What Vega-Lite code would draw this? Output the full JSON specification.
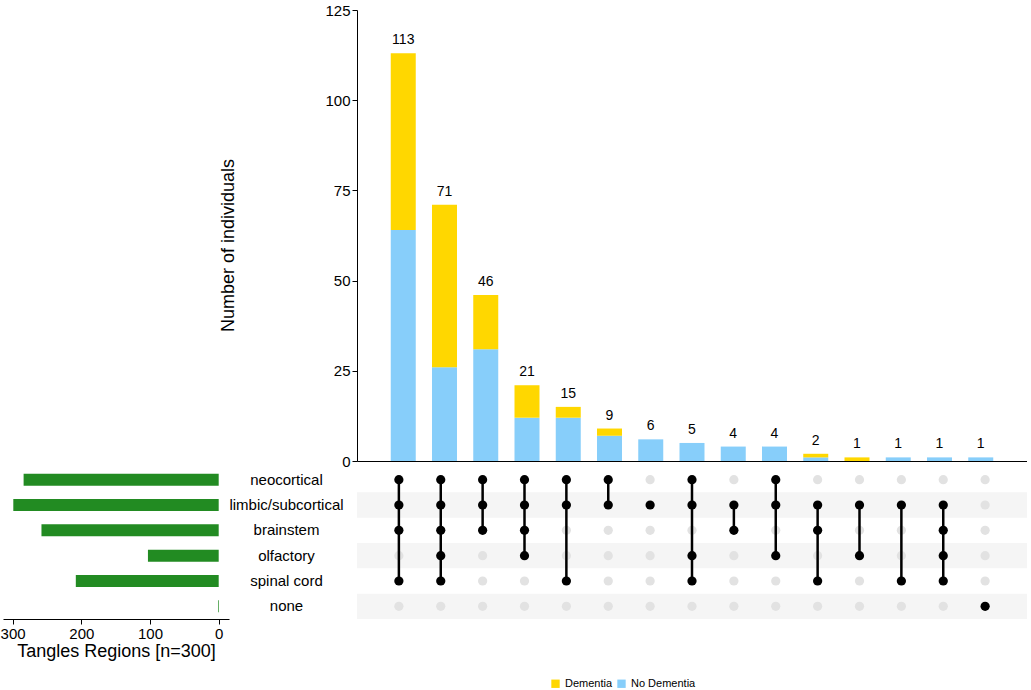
{
  "$schema": "https://vega.github.io/schema/vega-lite/v6.json",
  "background": "white",
  "padding": {"left": 0, "top": 3, "right": 0, "bottom": 0},
  "config": {"view": {"stroke": null}, "font": "Liberation Sans"},
  "datasets": {
    "bars": [
      {"c": 1, "g": "No Dementia", "v": 64}, {"c": 1, "g": "Dementia", "v": 49},
      {"c": 2, "g": "No Dementia", "v": 26}, {"c": 2, "g": "Dementia", "v": 45},
      {"c": 3, "g": "No Dementia", "v": 31}, {"c": 3, "g": "Dementia", "v": 15},
      {"c": 4, "g": "No Dementia", "v": 12}, {"c": 4, "g": "Dementia", "v": 9},
      {"c": 5, "g": "No Dementia", "v": 12}, {"c": 5, "g": "Dementia", "v": 3},
      {"c": 6, "g": "No Dementia", "v": 7}, {"c": 6, "g": "Dementia", "v": 2},
      {"c": 7, "g": "No Dementia", "v": 6},
      {"c": 8, "g": "No Dementia", "v": 5},
      {"c": 9, "g": "No Dementia", "v": 4},
      {"c": 10, "g": "No Dementia", "v": 4},
      {"c": 11, "g": "No Dementia", "v": 1}, {"c": 11, "g": "Dementia", "v": 1},
      {"c": 12, "g": "Dementia", "v": 1},
      {"c": 13, "g": "No Dementia", "v": 1},
      {"c": 14, "g": "No Dementia", "v": 1},
      {"c": 15, "g": "No Dementia", "v": 1}
    ],
    "sets": [
      {"set": "neocortical", "n": 284},
      {"set": "limbic/subcortical", "n": 299},
      {"set": "brainstem", "n": 258},
      {"set": "olfactory", "n": 103},
      {"set": "spinal cord", "n": 208},
      {"set": "none", "n": 1}
    ],
    "combos": [
      {"c": 1, "neocortical": 1, "limbic/subcortical": 1, "brainstem": 1, "olfactory": 0, "spinal cord": 1, "none": 0},
      {"c": 2, "neocortical": 1, "limbic/subcortical": 1, "brainstem": 1, "olfactory": 1, "spinal cord": 1, "none": 0},
      {"c": 3, "neocortical": 1, "limbic/subcortical": 1, "brainstem": 1, "olfactory": 0, "spinal cord": 0, "none": 0},
      {"c": 4, "neocortical": 1, "limbic/subcortical": 1, "brainstem": 1, "olfactory": 1, "spinal cord": 0, "none": 0},
      {"c": 5, "neocortical": 1, "limbic/subcortical": 1, "brainstem": 0, "olfactory": 0, "spinal cord": 1, "none": 0},
      {"c": 6, "neocortical": 1, "limbic/subcortical": 1, "brainstem": 0, "olfactory": 0, "spinal cord": 0, "none": 0},
      {"c": 7, "neocortical": 0, "limbic/subcortical": 1, "brainstem": 0, "olfactory": 0, "spinal cord": 0, "none": 0},
      {"c": 8, "neocortical": 1, "limbic/subcortical": 1, "brainstem": 0, "olfactory": 1, "spinal cord": 1, "none": 0},
      {"c": 9, "neocortical": 0, "limbic/subcortical": 1, "brainstem": 1, "olfactory": 0, "spinal cord": 0, "none": 0},
      {"c": 10, "neocortical": 1, "limbic/subcortical": 1, "brainstem": 0, "olfactory": 1, "spinal cord": 0, "none": 0},
      {"c": 11, "neocortical": 0, "limbic/subcortical": 1, "brainstem": 1, "olfactory": 0, "spinal cord": 1, "none": 0},
      {"c": 12, "neocortical": 0, "limbic/subcortical": 1, "brainstem": 0, "olfactory": 1, "spinal cord": 0, "none": 0},
      {"c": 13, "neocortical": 0, "limbic/subcortical": 1, "brainstem": 0, "olfactory": 0, "spinal cord": 1, "none": 0},
      {"c": 14, "neocortical": 0, "limbic/subcortical": 1, "brainstem": 1, "olfactory": 1, "spinal cord": 1, "none": 0},
      {"c": 15, "neocortical": 0, "limbic/subcortical": 0, "brainstem": 0, "olfactory": 0, "spinal cord": 0, "none": 1}
    ]
  },
  "columns": 2,
  "spacing": {"column": 128, "row": 6},
  "bounds": "flush",
  "align": "each",
  "concat": [
    {
      "width": 226, "height": 451,
      "data": {"values": [{"a": 0}]},
      "mark": {"type": "point", "opacity": 0},
      "encoding": {}
    },
    {
      "width": 670, "height": 451,
      "data": {"name": "bars"},
      "layer": [
        {
          "mark": {"type": "bar", "size": 25},
          "encoding": {
            "x": {"field": "c", "type": "quantitative", "scale": {"domain": [0, 16], "nice": false},
                  "axis": {"labels": false, "ticks": false, "grid": false, "title": null, "domainColor": "black", "domainWidth": 1.2}},
            "y": {"field": "v", "type": "quantitative", "stack": "zero", "scale": {"domain": [0, 125], "nice": false},
                  "axis": {"values": [0, 25, 50, 75, 100, 125], "title": "Number of individuals", "titleFontSize": 18, "titleFontWeight": "normal",
                           "titleColor": "black", "titleBaseline": "alphabetic", "titleX": -124, "titleY": 235, "titleAngle": 270,
                           "labelFontSize": 15, "labelColor": "black", "domainColor": "black", "tickColor": "black", "tickSize": 5, "grid": false, "labelPadding": 2}},
            "color": {"field": "g", "type": "nominal", "scale": {"domain": ["Dementia", "No Dementia"], "range": ["#FFD700", "#87CEFA"]},
                      "legend": {"orient": "none", "direction": "horizontal", "legendX": 547, "legendY": 668, "title": null,
                                 "symbolType": "square", "symbolSize": 70, "symbolStrokeWidth": 0, "labelFontSize": 11, "labelColor": "black",
                                 "labelOffset": 4, "columnPadding": 3}},
            "order": {"field": "g", "sort": "descending"}
          }
        },
        {
          "mark": {"type": "text", "dy": -13, "fontSize": 14, "color": "black"},
          "encoding": {
            "x": {"field": "c", "type": "quantitative"},
            "y": {"field": "v", "aggregate": "sum", "type": "quantitative"},
            "text": {"field": "v", "aggregate": "sum", "type": "quantitative"}
          }
        }
      ]
    },
    {
      "width": 226, "height": 152,
      "data": {"name": "sets"},
      "mark": {"type": "bar", "size": 12, "color": "#228B22"},
      "encoding": {
        "x": {"field": "n", "type": "quantitative", "scale": {"domain": [-15, 314], "reverse": true, "nice": false, "zero": false},
              "axis": {"values": [0, 100, 200, 300], "title": "Tangles Regions [n=300]", "titleFontSize": 18, "titleFontWeight": "normal",
                       "titleColor": "black", "labelFontSize": 15, "labelColor": "black", "domainColor": "black", "tickColor": "black",
                       "tickSize": 5, "grid": false, "titlePadding": 1}},
        "y": {"field": "set", "type": "nominal",
              "scale": {"domain": ["neocortical", "limbic/subcortical", "brainstem", "olfactory", "spinal cord", "none"], "paddingInner": 0, "paddingOuter": 0},
              "axis": null}
      }
    },
    {
      "width": 670, "height": 152,
      "layer": [
        {
          "data": {"name": "sets"},
          "transform": [{"filter": "datum.set === 'limbic/subcortical' || datum.set === 'olfactory' || datum.set === 'none'"}],
          "mark": {"type": "rect", "color": "#F5F5F5"},
          "encoding": {
            "y": {"field": "set", "type": "nominal",
                  "scale": {"domain": ["neocortical", "limbic/subcortical", "brainstem", "olfactory", "spinal cord", "none"], "paddingInner": 0, "paddingOuter": 0},
                  "axis": {"title": null, "ticks": false, "domain": false, "labelAlign": "center", "labelPadding": 71, "labelFontSize": 15, "labelColor": "black"}},
            "x": {"datum": 0, "type": "quantitative", "scale": {"domain": [0, 16], "nice": false}, "axis": null},
            "x2": {"datum": 16}
          }
        },
        {
          "data": {"name": "combos"},
          "transform": [{"fold": ["neocortical", "limbic/subcortical", "brainstem", "olfactory", "spinal cord", "none"], "as": ["set", "m"]}],
          "mark": {"type": "circle", "size": 85, "opacity": 1},
          "encoding": {
            "x": {"field": "c", "type": "quantitative"},
            "y": {"field": "set", "type": "nominal"},
            "color": {"condition": {"test": "datum.m == 1", "value": "black"}, "value": "#E2E2E2"}
          }
        },
        {
          "data": {"name": "combos"},
          "transform": [{"fold": ["neocortical", "limbic/subcortical", "brainstem", "olfactory", "spinal cord", "none"], "as": ["set", "m"]},
                        {"filter": "datum.m == 1"}],
          "mark": {"type": "line", "color": "black", "strokeWidth": 2.5},
          "encoding": {
            "x": {"field": "c", "type": "quantitative"},
            "y": {"field": "set", "type": "nominal"},
            "detail": {"field": "c", "type": "nominal"}
          }
        }
      ]
    }
  ]
}
